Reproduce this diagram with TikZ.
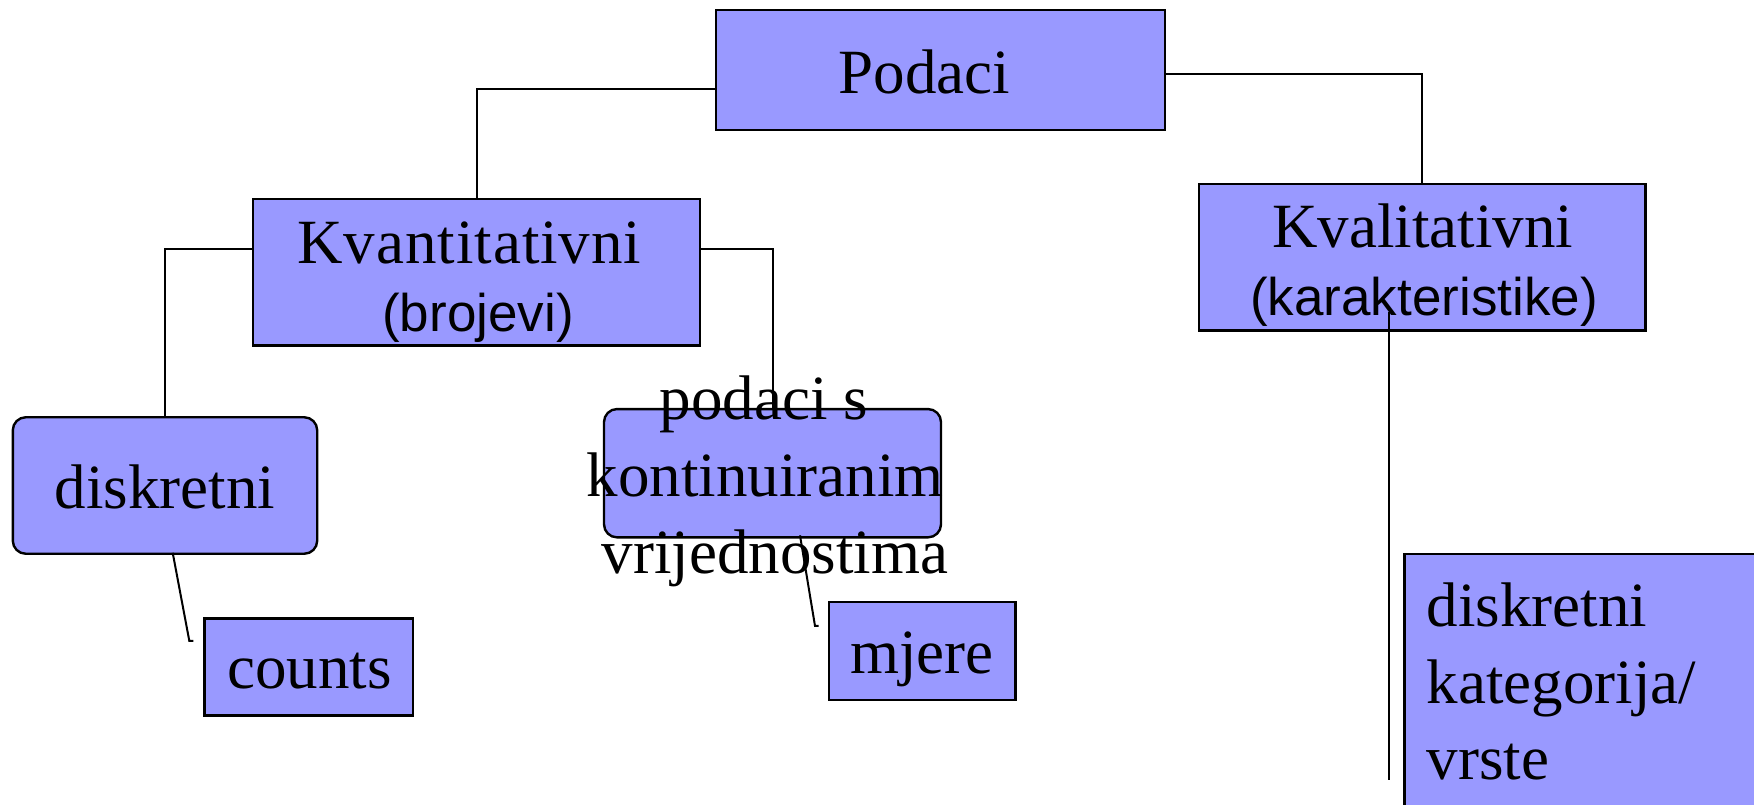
\documentclass[tikz,border=0pt]{standalone}
\usepackage{fontspec}
\setmainfont{Liberation Serif}
\newfontfamily\arialf{Liberation Sans}
\definecolor{boxblue}{RGB}{153,153,255}
\tikzset{
  box/.style={draw=black, line width=2.4pt, fill=boxblue, inner sep=0pt, outer sep=0pt},
  rbox/.style={box, rounded corners=13pt},
  txt/.style={anchor=base, inner sep=0pt, font=\fontsize{63}{77}\selectfont},
  ltxt/.style={txt, anchor=base west},
  stxt/.style={anchor=base, inner sep=0pt, font=\arialf\fontsize{53}{60}\selectfont},
  conn/.style={line width=2pt},
}
\begin{document}
\begin{tikzpicture}[x=1pt, y=-1pt]
\useasboundingbox (0,0) rectangle (1754,804);
\fill[white] (0,0) rectangle (1754,804);
\clip (0,0) rectangle (1754,804);

% boxes
\node[box, minimum width=449pt, minimum height=120pt] (pod) at (940.5,70) {};
\node[box, minimum width=447.4pt, minimum height=146.6pt] (kvant) at (476.5,272.3) {};
\node[box, minimum width=446.7pt, minimum height=146.7pt] (kval) at (1422.3,257.3) {};
\node[rbox, minimum width=304.4pt, minimum height=136.5pt] (disk) at (165,485.5) {};
\node[rbox, minimum width=337pt, minimum height=128.3pt] (cont) at (772.5,473.2) {};
\node[box, minimum width=208.4pt, minimum height=97pt] (counts) at (308.5,666.8) {};
\node[box, minimum width=186.6pt, minimum height=98.3pt] (mjere) at (922,650.9) {};
\node[box, minimum width=385.8pt, minimum height=286pt] (kat) at (1597.2,697) {};

% texts
\node[txt] (podT) at (924.5,93.3) {Podaci};
\node[txt, font=\fontsize{63}{77}\selectfont\addfontfeature{LetterSpace=1.5}] (kvantT1) at (469.5,263.5) {Kvantitativni};
\node[stxt] (kvantT2) at (478,331) {(brojevi)};
\node[txt] (kvalT1) at (1422.5,247.3) {Kvalitativni};
\node[stxt] (kvalT2) at (1424,315) {(karakteristike)};
\node[txt] (diskT) at (165,508) {diskretni};
\node[txt] (contT1) at (764,419) {podaci s};
\node[txt] (contT2) at (765,496) {kontinuiranim};
\node[txt] (contT3) at (775,573) {vrijednostima};
\node[txt] (countsT) at (309.5,688) {counts};
\node[txt] (mjereT) at (922,673) {mjere};
\node[ltxt] (katT1) at (1426.7,626) {diskretni};
\node[ltxt] (katT2) at (1426.7,703) {kategorija/};
\node[ltxt] (katT3) at (1426.7,779.5) {vrste};

% connectors
\draw[conn] ([yshift=-19.3pt]pod.west) -| (kvant.north);
\draw[conn] ([yshift=-4pt]pod.east) -| (kval.north);
\draw[conn] ([yshift=23pt]kvant.west) -| (disk.north);
\draw[conn] ([yshift=23pt]kvant.east) -| (cont.north);
\draw[conn] ([xshift=7.7pt,yshift=1pt]disk.south) -- ([xshift=-15pt,yshift=26pt]counts.west) -- ++(4,0);
\draw[conn] ([xshift=27.5pt,yshift=2pt]cont.south) -- ([xshift=-13.7pt,yshift=25pt]mjere.west) -- ++(3.5,0);
\coordinate (ktop) at ([xshift=-33.3pt,yshift=19pt]kval.south);
\coordinate (kbot) at ([xshift=-15.3pt,yshift=-82.5pt]kat.west);
\draw[conn] (ktop) -- (kbot);
\end{tikzpicture}
\end{document}
